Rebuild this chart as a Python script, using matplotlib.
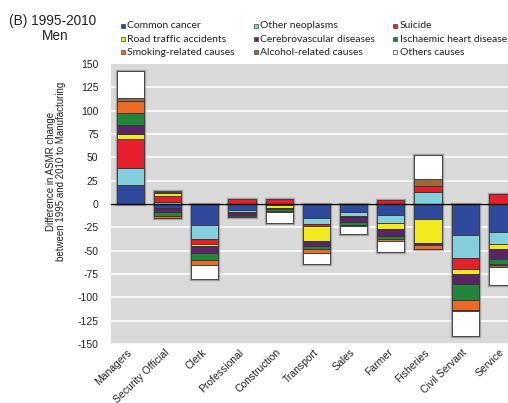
import matplotlib

matplotlib.use("Agg")
import matplotlib.pyplot as plt
import numpy as np
from matplotlib.patches import Rectangle

# Occupation groups, compared against Manufacturing
occupations = [
    "Managers", "Security Official", "Clerk", "Professional", "Construction",
    "Transport", "Sales", "Farmer", "Fisheries", "Civil Servant", "Service",
]

# Difference in ASMR change (1995-2010) by cause of death, one value per occupation
common_cancer = [20, -4, -22, -6.5, -1, -14.5, -9, -12, -16.5, -33, -29.5]
other_neoplasms = [19, 2.5, -15.5, -2, 0, -7, -3.5, -8.5, 13, -25, -13]
suicide = [31, 6.5, -5.5, 5, 5, -2.5, -1, 4.5, 6.5, -11.5, 10.5]
road_traffic = [5.5, 2.5, -1.5, -0.5, -3.5, -16, -0.5, -6.5, -25.5, -5.5, -5.5]
cerebrovascular = [9, -5, -8, -2.5, -1, -4.5, -5.5, -7, -1.5, -11, -11]
ischaemic_heart = [13.5, -3.5, -7, -1, -2.5, -3.5, -3, -3.5, 0, -17, -5]
smoking_related = [12, -2.5, -6, -0.5, -1, -4.5, -1, -2.5, -4.5, -10.5, -1.5]
alcohol_related = [4, 1, 0, 0, 0, 0, -0.5, 0, 7, -1.5, -1.5]
other_causes = [28, 1.5, -15, -0.5, -11, -11.5, -8, -11, 25.5, -26.5, -19.5]

cause_names = [
    "Common cancer", "Other neoplasms", "Suicide",
    "Road traffic accidents", "Cerebrovascular diseases", "Ischaemic heart disease",
    "Smoking-related causes", "Alcohol-related causes", "Others causes",
]
cause_values = [
    common_cancer, other_neoplasms, suicide,
    road_traffic, cerebrovascular, ischaemic_heart,
    smoking_related, alcohol_related, other_causes,
]
cause_colors = [
    "#2f4a9c", "#84cfdd", "#e61f2c",
    "#f2ea1d", "#5a2467", "#23853c",
    "#ec6a25", "#9a6a3a", "#ffffff",
]

y_ticks = list(range(-150, 151, 25))

fig = plt.figure(figsize=(5.08, 4.03), dpi=100)
ax = fig.add_axes([111 / 508, 59 / 403, 1 - 111 / 508, 280 / 403])
ax.set_facecolor("#d9d9d9")

x = np.arange(len(occupations))
width = 0.73

# Excel-style stacking: positives build up from zero, negatives build down
pos_base = np.zeros(len(occupations))
neg_base = np.zeros(len(occupations))
for name, values, color in zip(cause_names, cause_values, cause_colors):
    vals = np.array(values, dtype=float)
    bottom = np.where(vals >= 0, pos_base, neg_base)
    ax.bar(x, vals, width, bottom=bottom, color=color, edgecolor="#333333",
           linewidth=np.where(vals == 0, 0, 0.6), zorder=3)
    pos_base += np.clip(vals, 0, None)
    neg_base += np.clip(vals, None, 0)

# soft grey halo around each stack
for base in (pos_base, neg_base):
    ax.bar(x, base, width, facecolor="none", edgecolor="#8a8a8a",
           linewidth=np.where(base == 0, 0, 2.4), alpha=0.7, zorder=2)

ax.set_ylim(-150, 150)
ax.set_xlim(-0.524, 10.15)
ax.set_yticks(y_ticks)
ax.set_yticklabels([str(t) for t in y_ticks])
for t in y_ticks[:-1]:
    ax.axhline(t, color="white", linewidth=1.1, zorder=1)
ax.axhline(0, color="black", linewidth=1.0, zorder=4)

for spine in ax.spines.values():
    spine.set_visible(False)
ax.tick_params(axis="both", length=0, labelsize=7.5, colors="#222222")
ax.tick_params(axis="y", pad=9)
ax.tick_params(axis="x", pad=5)
ax.set_xticks(x)
ax.set_xticklabels(occupations, rotation=44, ha="right", va="center",
                   rotation_mode="anchor")
for lbl in ax.get_xticklabels() + ax.get_yticklabels():
    lbl.set_fontfamily("Liberation Sans")

fig.text(56 / 508, 1 - 171 / 403,
         "Difference in ASMR change\nbetween 1995 and 2010 to Manufacturing",
         rotation=90, ha="center", va="center", multialignment="center",
         fontsize=7, linespacing=1.05, family="Liberation Sans", color="#222222")

fig.text(53 / 508, 1 - 21.5 / 403, "(B) 1995-2010", ha="center", va="center",
         fontsize=9.8, family="Liberation Sans", color="#222222")
fig.text(55 / 508, 1 - 35.5 / 403, "Men", ha="center", va="center",
         fontsize=9.8, family="Liberation Sans", color="#222222")

# legend laid out as a 3 x 3 grid above the plot
col_x = [120.7, 254, 393]
row_y = [25.7, 39, 52.3]
for i, (name, color) in enumerate(zip(cause_names, cause_colors)):
    cx = col_x[i % 3]
    cy = row_y[i // 3]
    fig.add_artist(Rectangle((cx / 508, 1 - (cy + 2) / 403), 4 / 508, 4 / 403,
                             transform=fig.transFigure, facecolor=color,
                             edgecolor="#444444", linewidth=0.5))
    fig.text((cx + 6.5) / 508, 1 - cy / 403, name, ha="left", va="center",
             fontsize=7.5, family="Lato", color="#222222")

fig.savefig("out.png", dpi=100)
